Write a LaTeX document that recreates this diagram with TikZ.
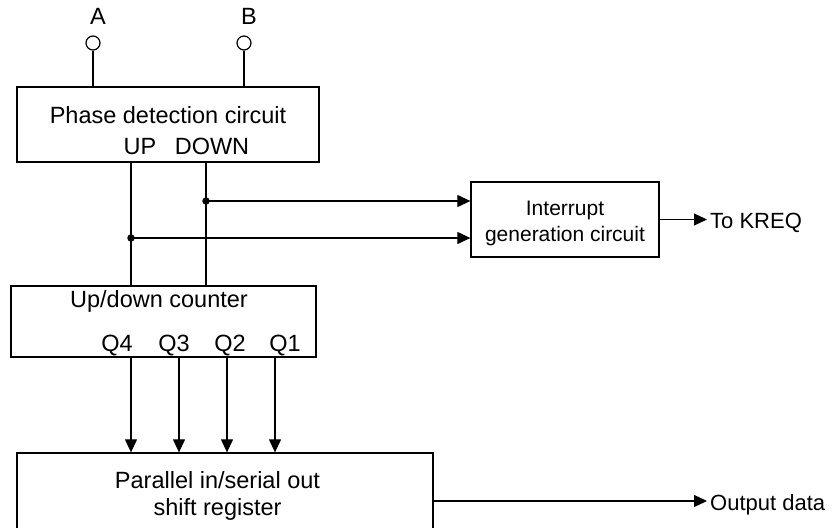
\documentclass[tikz,border=0pt]{standalone}
\usepackage{fontspec}
\setmainfont{Liberation Sans}
\usetikzlibrary{arrows.meta}
\begin{document}
\begin{tikzpicture}[x=1pt,y=-1pt,
  box/.style={draw,line width=1.3pt,inner sep=0},
  lbl/.style={inner sep=0,anchor=base,font=\fontsize{23.5}{28}\selectfont},
  slbl/.style={inner sep=0,anchor=base,font=\fontsize{21}{25}\selectfont},
  olbl/.style={inner sep=0,anchor=base west,font=\fontsize{22}{26}\selectfont},
  wire/.style={line width=1.2pt},
  arr/.style={wire,-{Triangle[length=13pt,width=12pt]}},
  term/.style={circle,draw,line width=1.2pt,minimum size=14pt,inner sep=0},
  dot/.style={circle,fill,minimum size=7.5pt,inner sep=0}]
\useasboundingbox (0,0) rectangle (837,527);
\clip (0,0) rectangle (837,527);
% boxes
\node[box,minimum width=302pt,minimum height=75pt] (pd) at (168,124.5) {};
\node[box,minimum width=305pt,minimum height=71pt] (cnt) at (163.5,321.5) {};
\node[box,minimum width=188pt,minimum height=75pt] (ig) at (565,219.5) {};
\node[box,minimum width=416pt,minimum height=87pt] (sr) at (225,496.5) {};
% texts
\node[lbl] (tA) at (98,25) {A};
\node[lbl] (tB) at (249,25) {B};
\node[lbl] (pdt) at (168,123) {Phase detection circuit};
\node[lbl] (upt) at (140,154.5) {UP};
\node[lbl] (dnt) at (212,154.5) {DOWN};
\node[lbl] (cntt) at (159,307.5) {Up/down counter};
\node[lbl] (q4) at (117,351.5) {Q4};
\node[lbl] (q3) at (174,351.5) {Q3};
\node[lbl] (q2) at (230,351.5) {Q2};
\node[lbl] (q1) at (285,351.5) {Q1};
\node[slbl] (igt1) at (565,215.5) {Interrupt};
\node[slbl] (igt2) at (565,241) {generation circuit};
\node[lbl] (srt1) at (217.5,488) {Parallel in/serial out};
\node[lbl] (srt2) at (217.5,515) {shift register};
\node[olbl] (kreq) at (710,228) {To KREQ};
\node[olbl] (od) at (710,510) {Output data};
% terminals
\node[term] (ta) at (93,43) {};
\node[term] (tb) at (244,43) {};
\draw[wire] (ta.south) -- (ta.south |- pd.north);
\draw[wire] (tb.south) -- (tb.south |- pd.north);
% up/down lines
\coordinate (upx) at (131,0);
\coordinate (dnx) at (206,0);
\draw[wire] (pd.south -| upx) -- (cnt.north -| upx);
\draw[wire] (pd.south -| dnx) -- (cnt.north -| dnx);
\node[dot] (j1) at (206,201) {};
\node[dot] (j2) at (131,238) {};
\draw[arr] (j1.center) -- (j1.center -| ig.west);
\draw[arr] (j2.center) -- (j2.center -| ig.west);
% outputs
\coordinate (ktip) at (707,219.5);
\draw[arr] (ig.east) -- (ktip);
\coordinate (otip) at (707,501);
\draw[arr] (sr.east |- otip) -- (otip);
% Q lines
\foreach \x in {131,179,227,275}
  \draw[arr] (cnt.south -| \x,0) -- (sr.north -| \x,0);
\end{tikzpicture}
\end{document}
